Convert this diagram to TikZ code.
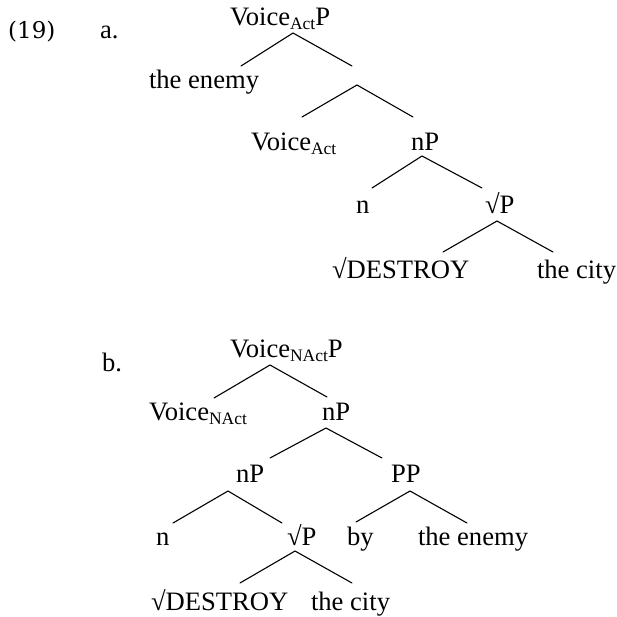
\documentclass[tikz,border=0pt]{standalone}
\usepackage{fontspec}
\setmainfont{Liberation Serif}
\newfontfamily\exnumfont{DejaVu Serif}
\newcommand\lsub[1]{\raisebox{-4pt}{\fontsize{17.5}{17.5}\selectfont #1}}
\begin{document}
\begin{tikzpicture}[x=1pt,y=-1pt,
  lbl/.style={anchor=base west,inner sep=0pt,outer sep=0pt,
              font=\fontsize{26.6}{32}\selectfont},
  branch/.style={line width=1.1pt,line cap=round}]
\useasboundingbox (0,0) rectangle (617,616);

% example number and sub-labels
\node[anchor=base west,inner sep=0pt,font=\exnumfont\fontsize{23}{27}\selectfont] (exnum) at (8,38) {(19)};
\node[lbl] (la) at (100,38) {a.};
\node[lbl] (lb) at (102,371) {b.};

% ---- tree (a) ----
\node[lbl] (vap) at (230,25) {Voice\lsub{Act}P};
\node[lbl] (enemyA) at (149,88) {the enemy};
\coordinate (xa) at (355,76);
\node[lbl] (voiceA) at (251,150) {Voice\lsub{Act}};
\node[lbl] (nPa) at (411,150) {nP};
\node[lbl] (na) at (356,213) {n};
\node[lbl] (rPa) at (485,213) {√P};
\node[lbl] (destroyA) at (332,278) {√DESTROY};
\node[lbl] (cityA) at (537,278) {the city};

\draw[branch] ([shift={(92,-22)}]enemyA.base west) -- ([shift={(63,8)}]vap.base west)
              -- ([shift={(-3,-10)}]xa);
\draw[branch] ([shift={(51,-33)}]voiceA.base west) -- ([shift={(2,9)}]xa)
              -- ([shift={(2,-33)}]nPa.base west);
\draw[branch] ([shift={(16,-25)}]na.base west) -- ([shift={(11,6)}]nPa.base west)
              -- ([shift={(-3,-25)}]rPa.base west);
\draw[branch] ([shift={(111,-26)}]destroyA.base west) -- ([shift={(12,8)}]rPa.base west)
              -- ([shift={(16,-26)}]cityA.base west);

% ---- tree (b) ----
\node[lbl] (vnp) at (230,357) {Voice\lsub{NAct}P};
\node[lbl] (voiceB) at (149,420) {Voice\lsub{NAct}};
\node[lbl] (nPb) at (322,420) {nP};
\node[lbl] (nPc) at (236,482) {nP};
\node[lbl] (PP) at (391,482) {PP};
\node[lbl] (nb) at (156,545) {n};
\node[lbl] (rPb) at (287,545) {√P};
\node[lbl] (by) at (347,545) {by};
\node[lbl] (enemyB) at (418,545) {the enemy};
\node[lbl] (destroyB) at (151,610) {√DESTROY};
\node[lbl] (cityB) at (311,610) {the city};

\draw[branch] ([shift={(65,-22)}]voiceB.base west) -- ([shift={(40,8)}]vnp.base west)
              -- ([shift={(5,-23)}]nPb.base west);
\draw[branch] ([shift={(34,-24)}]nPc.base west) -- ([shift={(4,8)}]nPb.base west)
              -- ([shift={(-9,-24)}]PP.base west);
\draw[branch] ([shift={(17,-22)}]nb.base west) -- ([shift={(-8,9)}]nPc.base west)
              -- ([shift={(-5,-22)}]rPb.base west);
\draw[branch] ([shift={(9,-23)}]by.base west) -- ([shift={(19,9)}]PP.base west)
              -- ([shift={(49,-22)}]enemyB.base west);
\draw[branch] ([shift={(89,-27)}]destroyB.base west) -- ([shift={(8,6)}]rPb.base west)
              -- ([shift={(41,-27)}]cityB.base west);
\end{tikzpicture}
\end{document}
